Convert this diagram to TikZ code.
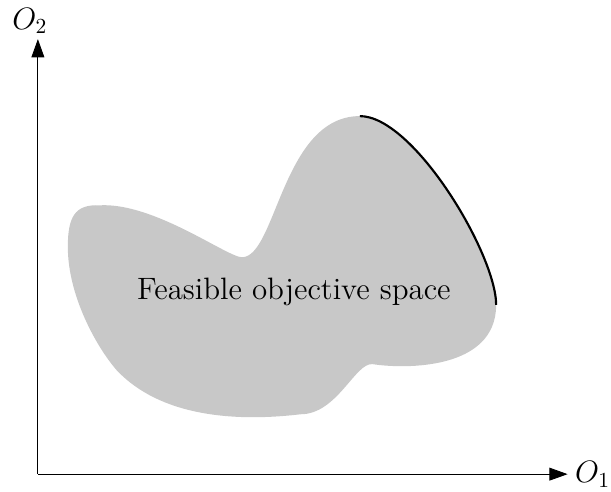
\documentclass[tikz,border=0pt]{standalone}
\usetikzlibrary{arrows.meta}
\definecolor{feasgray}{RGB}{200,200,200}

\begin{document}
\begin{tikzpicture}[
  axis/.style={-{Triangle[length=8.5pt,width=6pt]}},
  front/.style={line width=1pt},
  lbl/.style={font=\Large}
]
  % 画布大小
  \useasboundingbox (-0.62,-0.28) rectangle (9.38,7.76);

  % 坐标轴
  \coordinate (origin) at (0,0);
  \coordinate (xtip) at (8.67,0);
  \coordinate (ytip) at (0,7.12);
  \draw[axis] (origin) -- (xtip);
  \draw[axis] (origin) -- (ytip);
  \node (olabel1) [lbl,anchor=west] at (xtip) {$O_1$};
  \node (olabel2) [lbl] at (-0.13,7.42) {$O_2$};

  % 可行目标空间
  \fill[feasgray] (5.27,5.86)
    .. controls (6.15,5.86) and (7.5,3.6) .. (7.5,2.77)
    .. controls (7.5,1.7) and (6.0,1.72) .. (5.48,1.80)
    .. controls (5.2,1.84) and (4.9,0.98) .. (4.3,0.98)
    .. controls (3.2,0.85) and (2.0,0.95) .. (1.29,1.70)
    .. controls (0.96,2.08) and (0.49,2.92) .. (0.49,3.72)
    .. controls (0.49,4.2) and (0.6,4.42) .. (1.01,4.40)
    .. controls (1.9,4.45) and (3.1,3.55) .. (3.34,3.55)
    .. controls (3.9,3.55) and (4.0,5.86) .. (5.27,5.86) -- cycle;

  % Pareto 前沿
  \draw[front] (5.27,5.86) .. controls (6.15,5.86) and (7.5,3.6) .. (7.5,2.77);

  % 中心文本
  \node (feas) [lbl] at (4.19,2.98) {Feasible objective space};
\end{tikzpicture}
\end{document}
